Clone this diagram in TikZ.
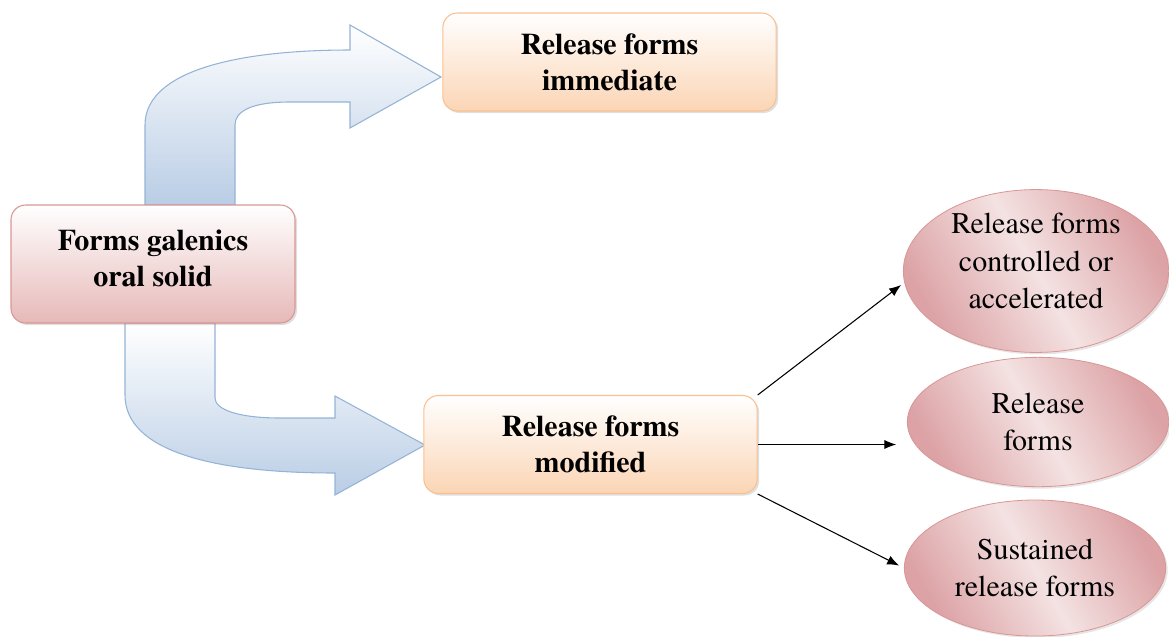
\documentclass[tikz,border=0pt]{standalone}
\usepackage{fontspec}
\setmainfont{TeX Gyre Termes}
\usetikzlibrary{shapes.geometric, shadows, arrows.meta}

\definecolor{boxred}{HTML}{E6B9B8}
\definecolor{edgered}{HTML}{D99694}
\definecolor{boxorange}{HTML}{FBD5B5}
\definecolor{edgeorange}{HTML}{FAC090}
\definecolor{arrowblue}{HTML}{B9CDE5}
\definecolor{edgeblue}{HTML}{95B3D7}
\definecolor{ovalred}{HTML}{DCA2A5}
\definecolor{ovallight}{HTML}{F4E2E2}

\tikzset{
  formbox/.style={rectangle, rounded corners=11pt, draw=edgered, line width=0.8pt,
    top color=white, bottom color=boxred, minimum width=213pt, minimum height=88.5pt,
    align=center, font=\fontsize{22.5}{27}\selectfont\bfseries,
    drop shadow={opacity=0.25, shadow xshift=1.5pt, shadow yshift=-1.5pt}},
  releasebox/.style={formbox, draw=edgeorange, bottom color=boxorange,
    minimum width=250pt, minimum height=73.5pt},
  oval/.style={ellipse, draw=edgered, line width=0.6pt, inner sep=0pt,
    left color=ovalred, right color=ovalred, middle color=ovallight, shading angle=120,
    align=center, font=\fontsize{22.5}{28}\selectfont,
    drop shadow={opacity=0.2, shadow xshift=1.5pt, shadow yshift=-1.5pt}},
  bigarrow/.style={draw=edgeblue, line width=0.8pt, top color=white, bottom color=arrowblue},
  thinarrow/.style={-{Latex[length=9pt,width=7pt]}, line width=0.8pt}
}

\begin{document}
\begin{tikzpicture}[x=0.75pt, y=-0.75pt]
\useasboundingbox (0,0) rectangle (1169,636);

% curved block arrows
\draw[bigarrow] (145,205) -- (145,125) .. controls (145,70) and (240,50) .. (350,50)
  -- (350,25) -- (441,77) -- (350,128) -- (350,102) -- (290,102)
  .. controls (250,102) and (235,112) .. (235,125) -- (235,205) -- cycle;
\draw[bigarrow] (125,323) -- (125,395) .. controls (125,450) and (210,473) .. (335,473)
  -- (335,495) -- (425,445) -- (335,396) -- (335,418) -- (280,418)
  .. controls (240,418) and (215,410) .. (215,398) -- (215,323) -- cycle;

\node[formbox, text depth=8pt] (galen) at (153,264) {Forms galenics\\oral solid};
\node[releasebox] (immed) at (609.5,62) {Release forms\\immediate};
\node[releasebox] (modif) at (590.5,444.5) {Release forms\\modified};

\node[oval, minimum width=199pt, minimum height=114pt, text depth=15pt] (ctrl) at (1036,271)
  {Release forms\\controlled or\\accelerated};
\node[oval, minimum width=196pt, minimum height=97pt] (plain) at (1038,422)
  {Release\\forms};
\node[oval, minimum width=196pt, minimum height=102pt] (sust) at (1035,568)
  {Sustained\\release forms};

\draw[thinarrow, shorten >=3pt] (modif.north east) -- (ctrl.185);
\draw[thinarrow, shorten >=8pt] (modif.east) -- (modif.east -| plain.west);
\draw[thinarrow, shorten >=4pt] (modif.south east) -- (sust.west);
\end{tikzpicture}
\end{document}
